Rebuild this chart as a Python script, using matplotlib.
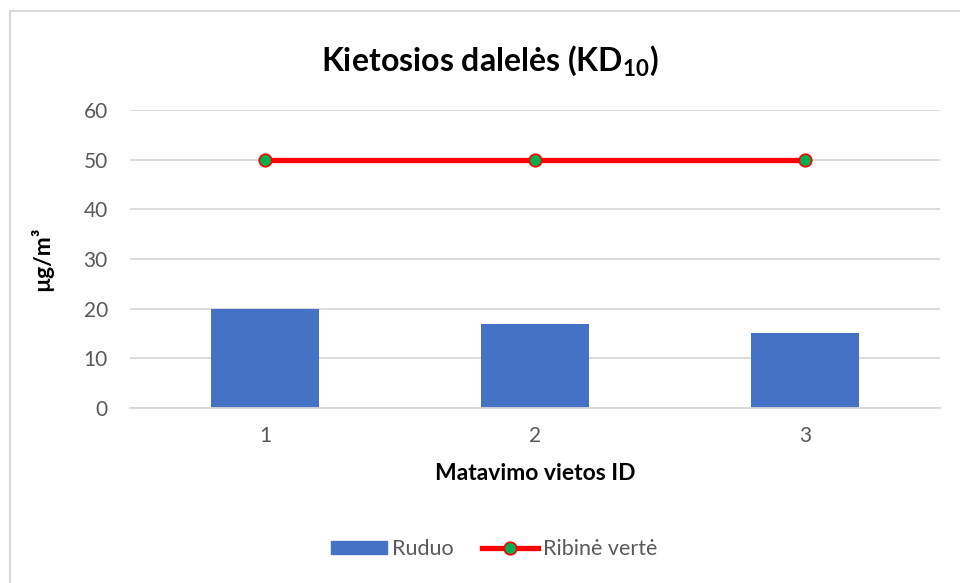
import matplotlib
matplotlib.use("Agg")
import matplotlib.pyplot as plt
from matplotlib.lines import Line2D

plt.rcParams['font.family'] = ['Lato', 'DejaVu Sans']
plt.rcParams['mathtext.fontset'] = 'custom'
plt.rcParams['mathtext.rm'] = 'Lato:bold'
plt.rcParams['mathtext.default'] = 'rm'

# data
categories = ['1', '2', '3']
ruduo = [20, 17, 15]
ribine_verte = [50, 50, 50]
y_ticks = [0, 10, 20, 30, 40, 50, 60]

grey_text = '#595959'
x = list(range(len(categories)))

fig = plt.figure(figsize=(9.6, 5.83), dpi=100)
ax = fig.add_axes([0.1354, 0.3002, 0.8438, 0.5111])

ax.bar(x, ruduo, width=0.40, color='#4472C4', zorder=2, label='Ruduo')
ax.plot(x, ribine_verte, color='#FF0000', lw=3.8, marker='o', ms=9,
        mfc='#00B050', mec='#FF0000', mew=1.2, zorder=3, label='Ribinė vertė')

ax.set_xlim(-0.5, 2.5)
ax.set_ylim(0, 60)
ax.set_yticks(y_ticks)
ax.set_xticks(x)
ax.set_xticklabels(categories)
ax.grid(axis='y', color='#D9D9D9', lw=1.3, zorder=0)
for s in ['top', 'right', 'left']:
    ax.spines[s].set_visible(False)
ax.spines['bottom'].set_color('#D9D9D9')
ax.spines['bottom'].set_linewidth(1.3)
ax.tick_params(length=0, labelsize=15, colors=grey_text, pad=16)
ax.tick_params(axis='x', pad=13)

ax.set_xlabel('Matavimo vietos ID', fontsize=16.5, fontweight='bold', color='black', labelpad=12)
ax.set_ylabel('µg/m³', fontsize=16.5, fontweight='bold', color='black', labelpad=22)

fig.text(0.51, 0.895, 'Kietosios dalelės (KD$_{10}$)', ha='center', va='center',
         fontsize=23, fontweight='bold')

handles = [plt.Rectangle((0, 0), 1, 1, color='#4472C4'),
           Line2D([], [], color='#FF0000', lw=3.8, marker='o', ms=9,
                  mfc='#00B050', mec='#FF0000', mew=1.2)]
leg = fig.legend(handles, ['Ruduo', 'Ribinė vertė'], loc='center',
                 bbox_to_anchor=(0.515, 0.058), ncol=2, frameon=False,
                 fontsize=15.5, handlelength=2.6, handleheight=0.55,
                 columnspacing=1.3, handletextpad=0.25)
for t in leg.get_texts():
    t.set_color(grey_text)

# chart area border (left and top visible in reference)
fig.add_artist(Line2D([0.0099, 0.0099], [0, 0.981], color='#D9D9D9', lw=1.5,
                      transform=fig.transFigure))
fig.add_artist(Line2D([0.0099, 1.0], [0.981, 0.981], color='#D9D9D9', lw=1.5,
                      transform=fig.transFigure))

fig.savefig('out.png', dpi=100)
